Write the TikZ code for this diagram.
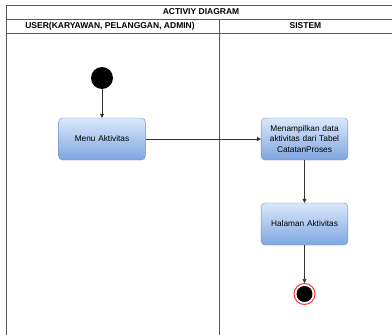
\documentclass[tikz,border=0pt]{standalone}
\usepackage{fontspec}
\setmainfont{Liberation Sans}
\usepackage{xcolor}
\usetikzlibrary{arrows.meta, positioning, calc}

\definecolor{boxtop}{HTML}{DAE8FC}
\definecolor{boxbot}{HTML}{7EA6E0}
\definecolor{boxline}{HTML}{6C8EBF}
\definecolor{endring}{HTML}{FF3333}

\tikzset{
  action/.style={draw=boxline, rounded corners=4pt, top color=boxtop, bottom color=boxbot,
    minimum width=85pt, minimum height=42pt, align=center, font=\fontsize{8.3}{10.8}\selectfont,
    text width=80pt},
  flow/.style={-{Triangle[length=4pt,width=4pt]}, black!80, line width=0.5pt},
  lane/.style={black!65, line width=0.8pt},
  header/.style={font=\bfseries\fontsize{8.5}{10}\selectfont}
}

\begin{document}
\begin{tikzpicture}[x=1pt, y=-1pt]
  \useasboundingbox (0,0) rectangle (392,335);

  % swimlane frame
  \draw[lane] (392,5) -- (6,5) -- (6,335);
  \draw[lane] (6,19) -- (392,19);
  \draw[lane] (6,33) -- (392,33);
  \draw[lane] (219,19) -- (219,335);
  \node[header] (title) at (201,12) {ACTIVIY DIAGRAM};
  \node[header] (user) at (110,26) {USER(KARYAWAN, PELANGGAN, ADMIN)};
  \node[header] (sistem) at (305.5,26) {SISTEM};

  % user lane
  \node[circle, fill=black, minimum size=22pt, inner sep=0pt] (start) at (102,78) {};
  \node[action] (menu) at (102,139) {Menu Aktivitas};

  % sistem lane
  \node[action] (tampil) at (304.5,139) {Menampilkan data aktivitas dari Tabel CatatanProses};
  \node[action] (halaman) at (304.5,224) {Halaman Aktivitas};
  \node[circle, draw=endring, line width=1pt, fill=white, minimum size=21pt, inner sep=0pt] (stop) at (304.5,294) {};
  \fill[black] (stop) circle (8pt);

  % flows
  \draw[flow] (start) -- (menu);
  \draw[flow] (menu) -- (tampil);
  \draw[flow] (tampil) -- (halaman);
  \draw[flow] (halaman) -- (stop);
\end{tikzpicture}
\end{document}
